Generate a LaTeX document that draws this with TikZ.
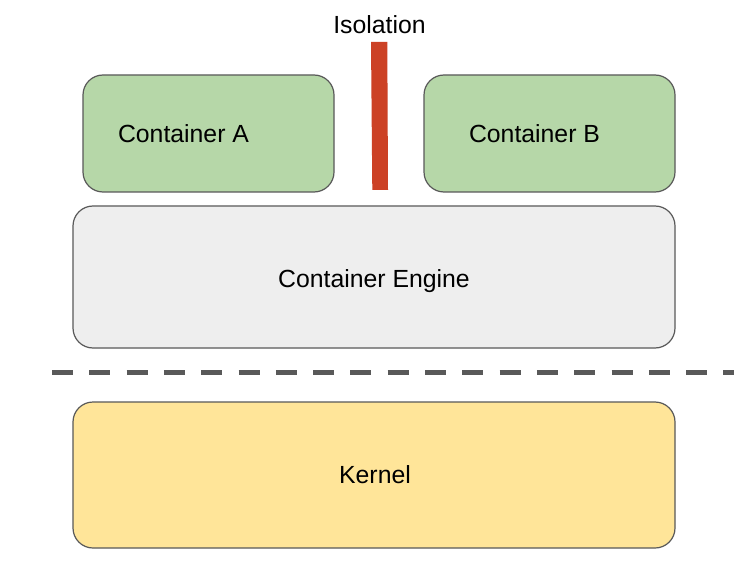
\documentclass[tikz,border=0pt]{standalone}
\usepackage{fontspec}
\setmainfont{Liberation Sans}
\definecolor{cgreen}{HTML}{B6D7A8}
\definecolor{cgray}{HTML}{EEEEEE}
\definecolor{cyellow}{HTML}{FFE599}
\definecolor{cred}{HTML}{CC4125}
\definecolor{cborder}{HTML}{595959}
\definecolor{cdash}{HTML}{595959}
\begin{document}
\begin{tikzpicture}[x=1pt,y=-1pt,
  box/.style={draw=cborder, line width=1.2pt, rounded corners=20pt},
  lbl/.style={font=\fontsize{24.8}{30}\selectfont, inner sep=0pt, anchor=base}]
\useasboundingbox (0,0) rectangle (752,564);
\fill[white] (0,0) rectangle (752,564);
% boxes
\draw[box, fill=cgreen] (83,75) rectangle (334,192);
\draw[box, fill=cgreen] (424,75) rectangle (675,192);
\draw[box, fill=cgray] (73,206) rectangle (675,348);
\draw[box, fill=cyellow] (73,402) rectangle (675,548);
% labels
\node[lbl] (ca) at (183.5,142.3) {Container A};
\node[lbl] (cb) at (534.5,142.3) {Container B};
\node[lbl] (ce) at (374,287.3) {Container Engine};
\node[lbl] (k) at (375,483.3) {Kernel};
\node[lbl] (iso) at (379.5,33.3) {Isolation};
% isolation bar
\fill[cred] (371,42) -- (387.3,42) -- (388,190) -- (372.3,190) -- cycle;
% dashed separator
\coordinate (dl) at (52,372);
\coordinate (dr) at (734,372);
\draw[cdash, line width=5pt, dash pattern=on 21pt off 16.3pt] (dl) -- (dr);
\end{tikzpicture}
\end{document}
